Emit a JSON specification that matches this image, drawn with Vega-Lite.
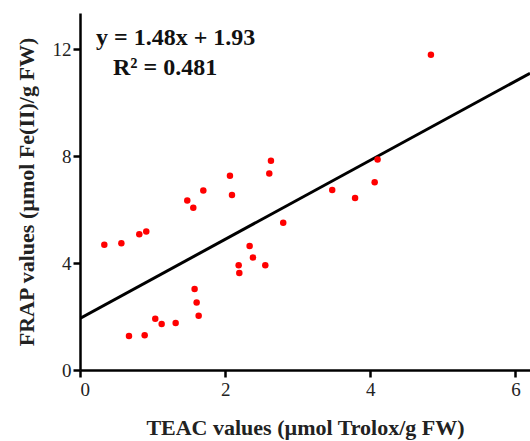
{
  "$schema": "https://vega.github.io/schema/vega-lite/v6.json",
  "autosize": "none",
  "padding": {"left": 80, "top": 13, "right": 0, "bottom": 71},
  "width": 450,
  "height": 357,
  "background": "white",
  "config": {"view": {"stroke": null}},
  "datasets": {
    "pts": [
      {"teac": 0.335, "frap": 4.69}, {"teac": 0.57, "frap": 4.74}, {"teac": 0.817, "frap": 5.08},
      {"teac": 0.913, "frap": 5.18}, {"teac": 1.478, "frap": 6.34}, {"teac": 1.561, "frap": 6.07},
      {"teac": 1.699, "frap": 6.72}, {"teac": 2.066, "frap": 7.27}, {"teac": 2.094, "frap": 6.55},
      {"teac": 2.608, "frap": 7.35}, {"teac": 2.631, "frap": 7.83}, {"teac": 2.8, "frap": 5.51},
      {"teac": 2.337, "frap": 4.64}, {"teac": 2.383, "frap": 4.21}, {"teac": 2.186, "frap": 3.92},
      {"teac": 2.195, "frap": 3.63}, {"teac": 2.553, "frap": 3.92}, {"teac": 1.579, "frap": 3.03},
      {"teac": 1.607, "frap": 2.53}, {"teac": 1.635, "frap": 2.03}, {"teac": 1.037, "frap": 1.92},
      {"teac": 1.125, "frap": 1.72}, {"teac": 1.318, "frap": 1.76}, {"teac": 0.675, "frap": 1.27},
      {"teac": 0.891, "frap": 1.3}, {"teac": 3.475, "frap": 6.74}, {"teac": 3.79, "frap": 6.44},
      {"teac": 4.06, "frap": 7.03}, {"teac": 4.1, "frap": 7.88}, {"teac": 4.835, "frap": 11.8}
    ],
    "fit": [{"teac": 0, "frap": 1.93}, {"teac": 6.2, "frap": 11.106}],
    "notes": [
      {"teac": 0.22, "frap": 12.43, "label": "y = 1.48x + 1.93"},
      {"teac": 0.455, "frap": 11.31, "label": "R² = 0.481"}
    ]
  },
  "layer": [
    {
      "data": {"name": "fit"},
      "mark": {"type": "line", "color": "black", "strokeWidth": 3, "clip": true},
      "encoding": {
        "x": {"field": "teac", "type": "quantitative",
          "scale": {"domain": [0, 6.2], "nice": false, "zero": false},
          "axis": {
            "title": "TEAC values (µmol Trolox/g FW)",
            "values": [0, 2, 4, 6],
            "format": "d",
            "grid": false,
            "domainColor": "black", "domainWidth": 2.5,
            "tickColor": "black", "tickWidth": 2.5, "tickSize": 7,
            "labelFont": "Liberation Serif", "labelFontSize": 19, "labelColor": "#222", "labelPadding": 3,
            "titleFont": "Liberation Serif", "titleFontSize": 22, "titleFontWeight": "bold", "titleColor": "#222", "titlePadding": 18
          }
        },
        "y": {"field": "frap", "type": "quantitative",
          "scale": {"domain": [0, 13.36], "nice": false, "zero": false},
          "axis": {
            "title": "FRAP values (µmol Fe(II)/g FW)",
            "values": [0, 4, 8, 12],
            "format": "d",
            "grid": false,
            "domainColor": "black", "domainWidth": 2.5,
            "tickColor": "black", "tickWidth": 2.5, "tickSize": 7,
            "labelFont": "Liberation Serif", "labelFontSize": 19, "labelColor": "#222", "labelPadding": 2,
            "titleFont": "Liberation Serif", "titleFontSize": 22, "titleFontWeight": "bold", "titleColor": "#222", "titlePadding": 14
          }
        }
      }
    },
    {
      "data": {"name": "pts"},
      "mark": {"type": "circle", "color": "#ff0000", "opacity": 1, "size": 42},
      "encoding": {
        "x": {"field": "teac", "type": "quantitative"},
        "y": {"field": "frap", "type": "quantitative"}
      }
    },
    {
      "data": {"name": "notes"},
      "mark": {"type": "text", "align": "left", "baseline": "middle", "font": "Liberation Serif", "fontSize": 24, "fontWeight": "bold", "color": "#111"},
      "encoding": {
        "x": {"field": "teac", "type": "quantitative"},
        "y": {"field": "frap", "type": "quantitative"},
        "text": {"field": "label"}
      }
    }
  ]
}
